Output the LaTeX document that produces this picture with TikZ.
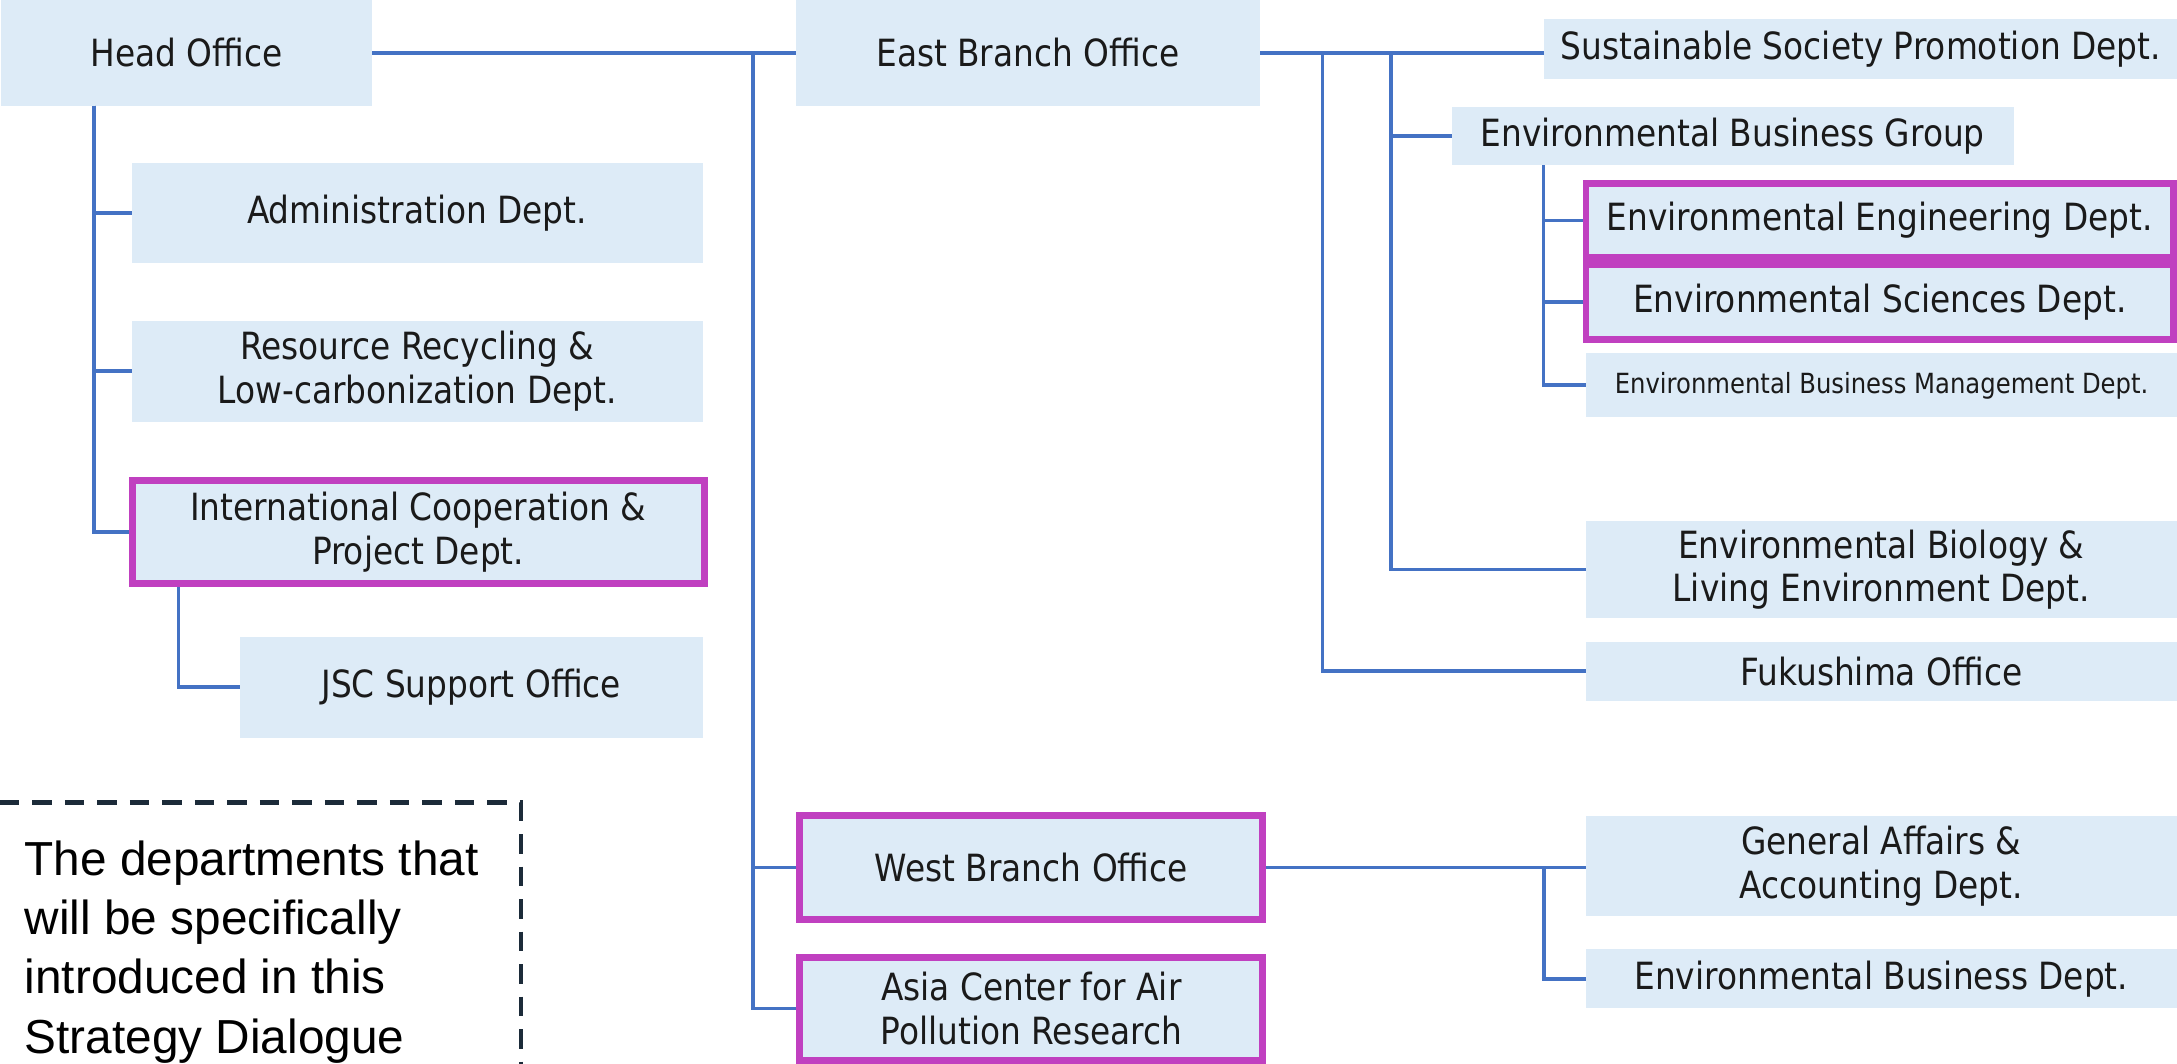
\documentclass[tikz,border=0pt]{standalone}
\usepackage{fontspec}
\setmainfont{DejaVu Sans}[FakeStretch=0.875]
\newfontfamily\notefont{Liberation Sans}
\definecolor{boxfill}{HTML}{DDEBF7}
\definecolor{linecol}{HTML}{4472C4}
\definecolor{hlcol}{HTML}{C040C0}
\definecolor{notecol}{HTML}{1C2B39}
\definecolor{txt}{HTML}{1A1A1A}
\begin{document}
\begin{tikzpicture}[x=1pt,y=-1pt,
  box/.style={fill=boxfill, draw=none, inner sep=0pt, outer sep=0pt, align=center,
    font=\fontsize{27}{31.5}\selectfont, text=txt},
  hl/.style={box, draw=hlcol, line width=5pt, outer sep=2.5pt},
  conn/.style={draw=linecol, line width=2.8pt},
  dashline/.style={draw=notecol, line width=3pt, dash pattern=on 14pt off 9.4pt},
  note/.style={inner sep=0pt, align=left, font=\notefont\fontsize{34.4}{42.6}\selectfont, text=black}]
\useasboundingbox (0,0) rectangle (1568,766);

% Head office side
\node[box, minimum width=267pt, minimum height=76pt] (head) at (134.5,38) {Head Office};
\node[box, minimum width=334.6pt, minimum height=76pt] (east) at (740.3,38) {East Branch Office};
\node[box, minimum width=411.2pt, minimum height=72.1pt] (admin) at (300.4,153.65) {Administration Dept.};
\node[box, minimum width=411.2pt, minimum height=72.5pt] (res) at (300.4,267.45) {Resource Recycling \&\\Low-carbonization Dept.};
\node[hl, minimum width=412.1pt, minimum height=74.2pt] (intl) at (301.15,383.4) {International Cooperation \&\\Project Dept.};
\node[box, minimum width=333.3pt, minimum height=72.7pt] (jsc) at (339.35,494.95) {JSC Support Office};

% East branch side
\node[box, minimum width=455.6pt, minimum height=43.4pt] (sust) at (1340.2,35.4) {Sustainable Society Promotion Dept.};
\node[box, minimum width=404.7pt, minimum height=42.1pt] (ebg) at (1247.95,97.85) {Environmental Business Group};
\node[hl, minimum width=423.2pt, minimum height=53.3pt] (eng) at (1353.9,158.85) {Environmental Engineering Dept.};
\node[hl, minimum width=423.2pt, minimum height=53.8pt] (sci) at (1353.9,217.4) {Environmental Sciences Dept.};
\node[box, font=\fontsize{20}{24}\selectfont, minimum width=425.6pt, minimum height=46.1pt] (mgmt) at (1355.2,277.55) {Environmental Business Management Dept.};
\node[box, minimum width=426pt, minimum height=70.4pt] (bio) at (1355,410.2) {Environmental Biology \&\\Living Environment Dept.};
\node[box, minimum width=426pt, minimum height=42.2pt] (fuku) at (1355,483.6) {Fukushima Office};

% West branch side
\node[hl, minimum width=333.4pt, minimum height=74.6pt] (west) at (742.8,624.8) {West Branch Office};
\node[hl, minimum width=333.4pt, minimum height=74.2pt] (asia) at (742.8,726.4) {Asia Center for Air\\Pollution Research};
\node[box, minimum width=426pt, minimum height=72pt] (genaff) at (1355,623.8) {General Affairs \&\\Accounting Dept.};
\node[box, minimum width=426pt, minimum height=42.7pt] (envbiz) at (1355,704.95) {Environmental Business Dept.};

% connectors
\coordinate (j1) at (542.4,38);
\draw[conn] (head.east) -- (east.west);
\draw[conn] (j1) |- (west.west);
\draw[conn] (j1) |- (asia.west);

\coordinate (hv) at (68,76);
\draw[conn] (hv) |- (admin.west);
\draw[conn] (hv) |- (res.west);
\draw[conn] (hv) |- (intl.west);
\coordinate (iv) at (128.6,423);
\draw[conn] (iv) |- (jsc.west);

\draw[conn] (east.east) -- (east.east -| sust.west);
\coordinate (ev1) at (952.5,38);
\coordinate (ev2) at (1001.7,38);
\draw[conn] (ev1) |- (fuku.west);
\draw[conn] (ev2) |- (bio.west);
\draw[conn] (ev2 |- ebg.west) -- (ebg.west);
\coordinate (gv) at (1111.7,118.9);
\draw[conn] (gv) |- (eng.west);
\draw[conn] (gv) |- (sci.west);
\draw[conn] (gv) |- (mgmt.west);

\draw[conn] (west.east) -- (west.east -| genaff.west);
\coordinate (wv) at (1111.8,624.8);
\draw[conn] (wv) |- (envbiz.west);

% legend
\draw[dashline] (0,578) -- (375,578) -- (375,766);
\node[note, anchor=north west] (note) at (17.6,605.5) {The departments that\\will be specifically\\introduced in this\\Strategy Dialogue};
\end{tikzpicture}
\end{document}
